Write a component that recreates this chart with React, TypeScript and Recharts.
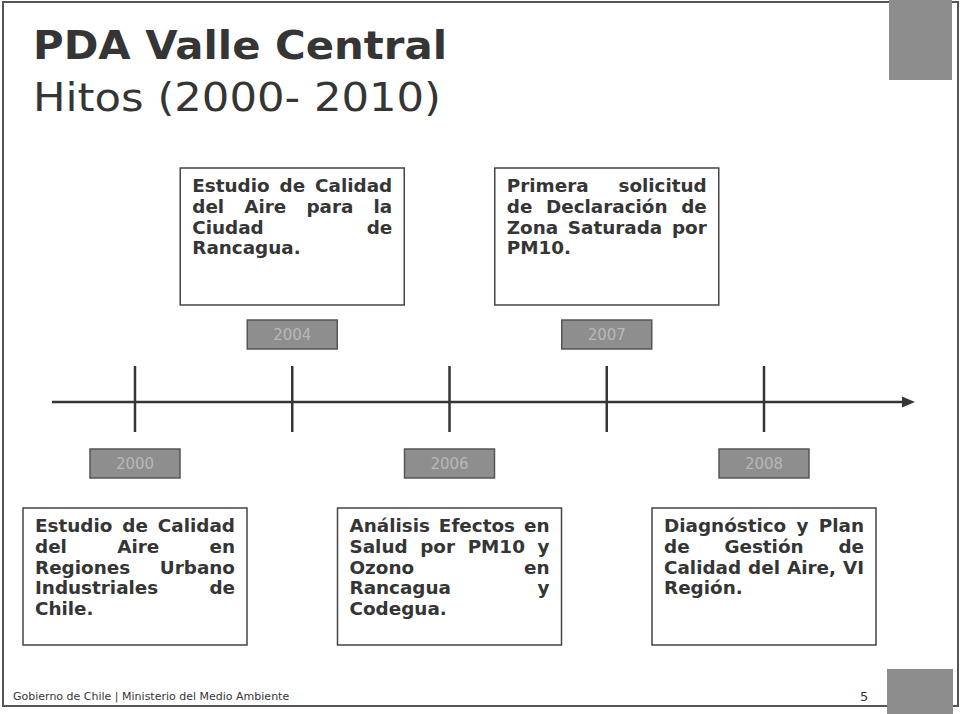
import React from "react";
import { ComposedChart, Scatter, XAxis, YAxis, ReferenceLine } from "recharts";

const YEARS = ["2000", "2004", "2006", "2007", "2008"];
const SIDES = ["abajo", "arriba", "abajo", "arriba", "abajo"];
const HITOS = [
  ["Estudio de Calidad", "del Aire en", "Regiones Urbano", "Industriales de", "Chile."],
  ["Estudio de Calidad", "del Aire para la", "Ciudad de", "Rancagua."],
  ["Análisis Efectos en", "Salud por PM10 y", "Ozono en", "Rancagua y", "Codegua."],
  ["Primera solicitud", "de Declaración de", "Zona Saturada por", "PM10."],
  ["Diagnóstico y Plan", "de Gestión de", "Calidad del Aire, VI", "Región."],
];

const data = YEARS.map((year, i) => ({ idx: i, nivel: 0, year, side: SIDES[i], lines: HITOS[i] }));

const FAMILY = "'DejaVu Sans', Verdana, sans-serif";
const INK = "#353535";
const BOX_FONT = `bold 17px ${FAMILY}`;
const WIDEN = 1.08; // Verdana is a bit wider than DejaVu

let ctx: CanvasRenderingContext2D | null = null;
function measure(s: string) {
  if (!ctx) ctx = document.createElement("canvas").getContext("2d");
  ctx!.font = BOX_FONT;
  return ctx!.measureText(s).width * WIDEN;
}

// justified text like the slide (last line left aligned)
function JustifiedText({ x, y, width, lines }: any) {
  const out: any[] = [];
  lines.forEach((line: string, li: number) => {
    const words = line.split(" ");
    const widths = words.map(measure);
    const last = li === lines.length - 1;
    const total = widths.reduce((a, b) => a + b, 0);
    const gap = !last && words.length > 1 ? Math.max(4, (width - total) / (words.length - 1)) : measure(" ");
    let cx = x;
    words.forEach((w, wi) => {
      out.push(
        <text key={`${li}-${wi}`} x={cx} y={y + li * 20.8} fontFamily={FAMILY} fontWeight="bold" fontSize={17} fill={INK}
          textLength={widths[wi]} lengthAdjust="spacingAndGlyphs">
          {w}
        </text>
      );
      cx += widths[wi] + gap;
    });
  });
  return <g>{out}</g>;
}

function Hito(props: any) {
  const { cx, cy, payload } = props;
  const up = payload.side === "arriba";
  const boxTop = up ? cy - 234 : cy + 106;
  const labTop = up ? cy - 82 : cy + 47;
  return (
    <g>
      <line x1={cx} x2={cx} y1={cy - 36} y2={cy + 30} stroke={INK} strokeWidth={2.5} />
      <rect x={cx - 45} y={labTop} width={90} height={29} fill="#8e8e8e" stroke="#555" strokeWidth={1.5} />
      <text x={cx} y={labTop + 20} textAnchor="middle" fontFamily={FAMILY} fontSize={15} fill="#b8b8b8">
        {payload.year}
      </text>
      <rect x={cx - 112} y={boxTop} width={224} height={137} fill="#fff" stroke="#444" strokeWidth={1.5} />
      <JustifiedText x={cx - 100} y={boxTop + 24} width={200} lines={payload.lines} />
    </g>
  );
}

function Flecha(props: any) {
  const { x1, x2, y1 } = props;
  return (
    <g>
      <line x1={x1} x2={x2 - 8} y1={y1} y2={y1} stroke={INK} strokeWidth={2.5} />
      <polygon points={`${x2},${y1} ${x2 - 13},${y1 - 5.5} ${x2 - 13},${y1 + 5.5}`} fill={INK} />
    </g>
  );
}

export default function App() {
  return (
    <div style={{ position: "absolute", left: 0, top: 0, width: 962, height: 714, background: "#fff" }}>
      <svg width={962} height={714} style={{ position: "absolute", left: 0, top: 0 }}>
        <rect x={3} y={2} width={955} height={704} fill="none" stroke="#555" strokeWidth={2} />
        <rect x={889} y={0} width={63} height={80} fill="#8d8d8d" />
        <rect x={887} y={669} width={66} height={45} fill="#8d8d8d" />
        <text x={33} y={59} fontFamily={FAMILY} fontWeight="bold" fontSize={39} fill={INK} textLength={414} lengthAdjust="spacingAndGlyphs">
          PDA Valle Central
        </text>
        <text x={33} y={111} fontFamily={FAMILY} fontSize={39} fill={INK} textLength={408} lengthAdjust="spacingAndGlyphs">
          Hitos (2000- 2010)
        </text>
        <text x={13} y={700} fontFamily={FAMILY} fontSize={11} fill={INK}>
          Gobierno de Chile | Ministerio del Medio Ambiente
        </text>
        <text x={860} y={701} fontFamily={FAMILY} fontSize={13} fill={INK}>
          5
        </text>
      </svg>
      <div style={{ position: "absolute", left: 0, top: 0 }}>
        <ComposedChart width={962} height={714} data={data} margin={{ top: 102, bottom: 12, left: 52, right: 47 }}>
          <XAxis type="number" dataKey="idx" domain={[0, 4]} padding={{ left: 83, right: 151 }} hide />
          <YAxis type="number" dataKey="nivel" domain={[-1, 1]} hide />
          <ReferenceLine y={0} shape={<Flecha />} />
          <Scatter dataKey="nivel" shape={<Hito />} isAnimationActive={false} />
        </ComposedChart>
      </div>
    </div>
  );
}
